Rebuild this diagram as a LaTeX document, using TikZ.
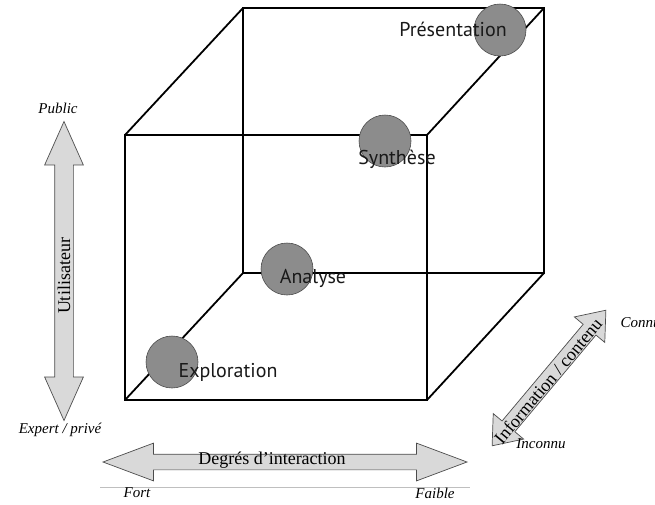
\documentclass[tikz,border=0pt]{standalone}
\usepackage{fontspec}
\setmainfont{Liberation Serif}
\newfontfamily\stagefont{PT Sans}
\usetikzlibrary{shapes.arrows}

\begin{document}
\begin{tikzpicture}[x=1pt, y=-1pt,
    edge/.style={line width=1.8pt, black},
    stage/.style={circle, draw=black!70, fill=black!45, line width=0.6pt,
                  minimum size=52pt, inner sep=0pt},
    stagelabel/.style={anchor=base, text=black!90,
                       font=\stagefont\fontsize{20}{24}\selectfont},
    axis/.style={double arrow, draw=black!70, fill=black!15, line width=0.7pt,
                 inner xsep=0pt},
    axistitle/.style={font=\fontsize{18}{20}\selectfont},
    pole/.style={font=\itshape\fontsize{15}{18}\selectfont}]

  \useasboundingbox (0,0) rectangle (655,504);

  % cube
  \coordinate (f1) at (125,400);
  \coordinate (f2) at (427,400);
  \coordinate (f3) at (427,135);
  \coordinate (f4) at (125,135);
  \coordinate (b1) at (243,273);
  \coordinate (b2) at (544,273);
  \coordinate (b3) at (544,8);
  \coordinate (b4) at (243,8);

  \draw[edge] (f1) -- (f2) -- (f3) -- (f4) -- cycle;
  \draw[edge] (b1) -- (b2) -- (b3) -- (b4) -- cycle;
  \foreach \i in {1,...,4}
    \draw[edge] (f\i) -- (b\i);

  % stages
  \node[stage] (explo) at (172,362) {};
  \node[stage] (analy) at (287,269) {};
  \node[stage] (synth) at (385,141) {};
  \node[stage] (prese) at (500,30) {};

  \node[stagelabel] (explolbl) at (228,377) {Exploration};
  \node[stagelabel] (analylbl) at (313,283) {Analyse};
  \node[stagelabel] (synthlbl) at (397,164) {Synthèse};
  \node[stagelabel] (preselbl) at (453,36) {Présentation};

  % axes
  \node[axis, rotate=90, minimum height=299pt, inner ysep=9pt,
        double arrow head extend=10pt, double arrow tip angle=48]
    (user) at (64,271) {};
  \node[axis, minimum height=364pt, inner ysep=7.5pt,
        double arrow head extend=11pt, double arrow tip angle=41]
    (inter) at (285,462) {};
  \node[axis, rotate=50, minimum height=177pt, inner ysep=8pt,
        double arrow head extend=11.5pt, double arrow tip angle=76]
    (info) at (549,378) {};

  \node[axistitle, rotate=90] (usertitle) at (64,276) {Utilisateur};
  \node[axistitle] (intertitle) at (272,460) {Degrés d'interaction};
  \node[axistitle, rotate=50] (infotitle) at (548,381) {Information / contenu};

  \draw[black!25, line width=0.8pt] (100,487) -- (470,487);

  \node[pole] (public) at (58,108) {Public};
  \node[pole] (expert) at (60,430) {Expert / privé};
  \node[pole] (fort) at (137,493) {Fort};
  \node[pole] (faible) at (435,493) {Faible};
  \node[pole] (inconnu) at (541,444) {Inconnu};
  \node[pole, anchor=west] (connu) at (617,323) {Connu};

\end{tikzpicture}
\end{document}
